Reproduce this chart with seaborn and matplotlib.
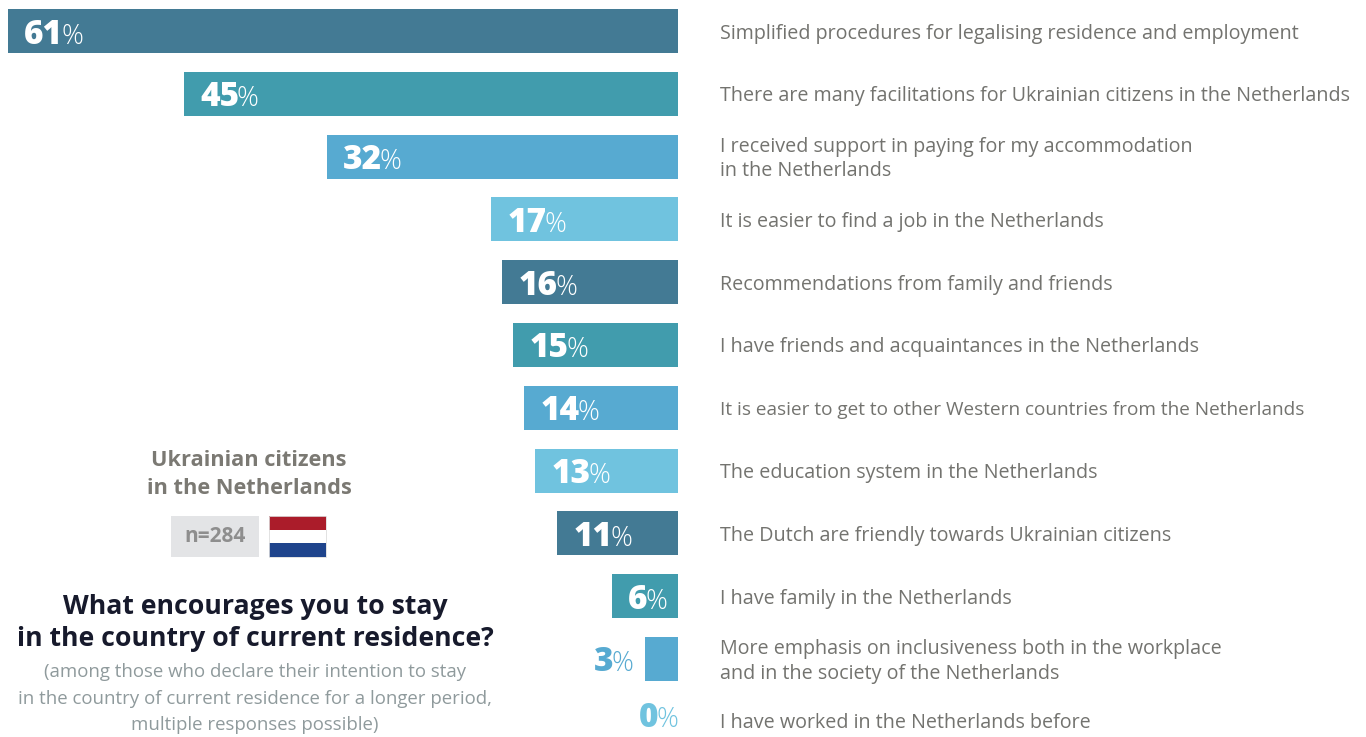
import matplotlib
matplotlib.use("Agg")
import matplotlib.pyplot as plt
from matplotlib.patches import Rectangle
import pandas as pd
import seaborn as sns

categories = [
    "Simplified procedures for legalising residence and employment",
    "There are many facilitations for Ukrainian citizens in the Netherlands",
    "I received support in paying for my accommodation\nin the Netherlands",
    "It is easier to find a job in the Netherlands",
    "Recommendations from family and friends",
    "I have friends and acquaintances in the Netherlands",
    "It is easier to get to other Western countries from the Netherlands",
    "The education system in the Netherlands",
    "The Dutch are friendly towards Ukrainian citizens",
    "I have family in the Netherlands",
    "More emphasis on inclusiveness both in the workplace\nand in the society of the Netherlands",
    "I have worked in the Netherlands before",
]
values = [61, 45, 32, 17, 16, 15, 14, 13, 11, 6, 3, 0]
palette_cycle = ["#437a94", "#419cad", "#57aad1", "#70c3df"]
bar_colors = [palette_cycle[i % 4] for i in range(len(values))]

W, H = 1366, 737
PITCH = 62.8
sns.set_theme(style="white")
plt.rcParams["font.family"] = ["Open Sans", "DejaVu Sans"]

fig = plt.figure(figsize=(W / 100, H / 100), dpi=100, facecolor="white")
ax = fig.add_axes([0, 0, 1, 1])
df = pd.DataFrame({"cat": categories, "val": values})
sns.barplot(data=df, y="cat", x="val", hue="cat", palette=bar_colors, legend=False,
            orient="h", width=44 / PITCH, saturation=1, linewidth=0, ax=ax)
PX = 10.98
ax.set_xlim(678 / PX, (678 - W) / PX)
ax.set_ylim((H - 31) / PITCH, -31 / PITCH)
ax.axis("off")
renderer = fig.canvas.get_renderer()

for i, (cat, v) in enumerate(zip(categories, values)):
    # The bottom row sits a little higher than its reference spot so nothing is clipped.
    size = 13.72 if "Western" in cat else 14.25
    label_shift = 1.5 / PITCH if v == 0 else 2.5 / PITCH
    ax.text(-42 / PX, i + label_shift, cat, va="center", ha="left", fontsize=size,
            color="#73736f", linespacing=1.27)
    inside = v >= 6
    col = "white" if inside else bar_colors[i]
    if inside:
        xpos = v - 16 / PX
    elif v == 3:
        xpos = v + 51 / PX
    else:
        xpos = v + 39 / PX
    ybase = i + (5 / PITCH if v == 0 else 12.5 / PITCH)
    t = ax.text(xpos, ybase, str(v), va="baseline", ha="left", fontsize=24, fontweight=800,
                color=col)
    width_pt = t.get_window_extent(renderer).width * 72 / fig.dpi - 1.5
    ax.annotate("%", xy=(xpos, ybase), xycoords="data", xytext=(width_pt, 0),
                textcoords="offset points", va="baseline", ha="left", fontsize=19.5,
                fontweight=300, color=col)


def figx(px):
    return px / W


def figy(py):
    return 1 - py / H


fig.text(figx(249), figy(460), "Ukrainian citizens", ha="center", va="center",
         fontsize=15.7, fontweight="bold", color="#7b7973")
fig.text(figx(249), figy(488), "in the Netherlands", ha="center", va="center",
         fontsize=15.7, fontweight="bold", color="#7b7973")
fig.add_artist(Rectangle((figx(171), figy(557)), 88 / W, 41 / H, transform=fig.transFigure,
                         facecolor="#e3e4e6", edgecolor="none"))
fig.text(figx(215), figy(537), "n=284", ha="center", va="center", fontsize=15,
         fontweight="bold", color="#8e8e8e")
for top, h, c in [(516, 14, "#ab1c2a"), (530, 13, "white"), (543, 14, "#1f448c")]:
    fig.add_artist(Rectangle((figx(269), figy(top + h)), 57 / W, h / H,
                             transform=fig.transFigure, facecolor=c, edgecolor="none"))
fig.add_artist(Rectangle((figx(269), figy(557)), 57 / W, 41 / H, transform=fig.transFigure,
                         facecolor="none", edgecolor="#dddddd", linewidth=0.6))
fig.text(figx(255), figy(606.5), "What encourages you to stay", ha="center", va="center",
         fontsize=19.2, fontweight="bold", color="#171a2c")
fig.text(figx(255), figy(638.5), "in the country of current residence?", ha="center", va="center",
         fontsize=19.2, fontweight="bold", color="#171a2c")
for py, s in [(672, "(among those who declare their intention to stay"),
              (699, "in the country of current residence for a longer period,"),
              (724.5, "multiple responses possible)")]:
    fig.text(figx(255), figy(py), s, ha="center", va="center", fontsize=13.4, color="#8f9a9c")

fig.savefig("out.png", dpi=100, facecolor="white")
